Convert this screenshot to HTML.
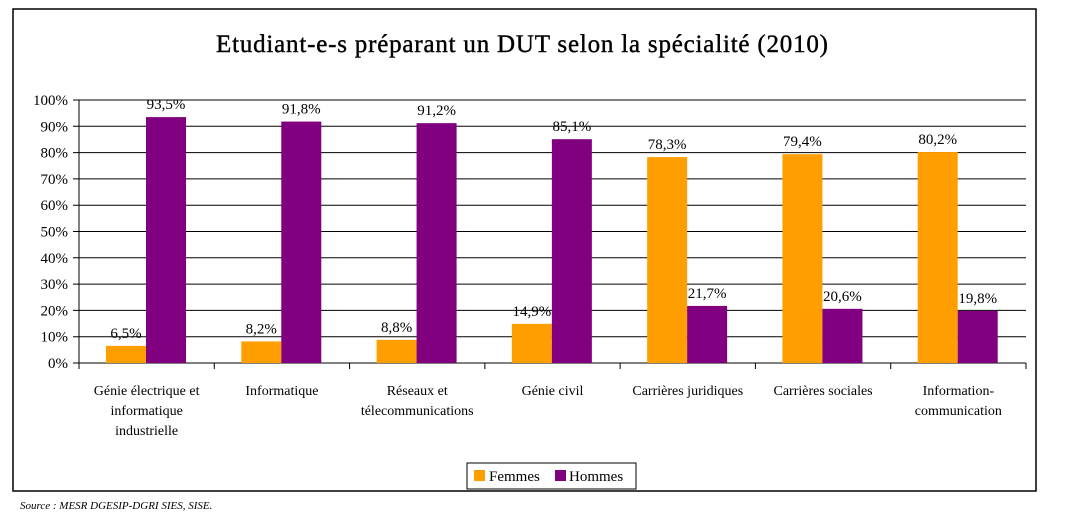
<!DOCTYPE html>
<html><head><meta charset="utf-8"><style>
body{margin:0;background:#fff;width:1067px;height:524px;overflow:hidden;font-family:"Liberation Serif",serif}
svg text{font-family:"Liberation Serif",serif;fill:#000}
</style></head><body>
<svg id="chart" width="1067" height="524">
<rect x="13" y="9" width="1023" height="482" fill="#fff" stroke="#000" stroke-width="1.5"/>
<text x="522" y="52" font-size="25" text-anchor="middle" textLength="612" stroke="#000" stroke-width="0.4">Etudiant-e-s préparant un DUT selon la spécialité (2010)</text>
<g id="grid"></g><g id="bars"></g><g id="labels"></g>
<g>
<rect x="467" y="463" width="169" height="26" fill="#fff" stroke="#000"/>
<rect x="474" y="470" width="11" height="11" fill="#FF9E00"/>
<text x="489" y="481" font-size="15">Femmes</text>
<rect x="555" y="470" width="11" height="11" fill="#800080"/>
<text x="569" y="481" font-size="15">Hommes</text>
</g>
<text x="20" y="509" font-size="11" font-style="italic">Source : MESR DGESIP-DGRI SIES, SISE.</text>
</svg>
<script>
const categories=[["Génie électrique et","informatique","industrielle"],["Informatique"],["Réseaux et","télecommunications"],["Génie civil"],["Carrières juridiques"],["Carrières sociales"],["Information-","communication"]];
const femmes=[6.5,8.2,8.8,14.9,78.3,79.4,80.2];
const hommes=[93.5,91.8,91.2,85.1,21.7,20.6,19.8];
const yTicks=[0,10,20,30,40,50,60,70,80,90,100];
const NS="http://www.w3.org/2000/svg";
const x0=79,x1=1026,yTop=100,yBot=363;
const cw=(x1-x0)/categories.length;
const y=v=>yBot-(v/100)*(yBot-yTop);
function mk(t,a,p){const e=document.createElementNS(NS,t);for(const k in a)e.setAttribute(k,a[k]);p.appendChild(e);return e;}
const grid=document.getElementById('grid'),bars=document.getElementById('bars'),labels=document.getElementById('labels');
yTicks.forEach(t=>{
 const l=mk('line',{x1:73,x2:x1,y1:y(t),y2:y(t),stroke:'#000','stroke-width':1},grid);
 
 
 const tx=mk('text',{x:68,y:y(t)+5,'font-size':15,'text-anchor':'end'},grid);
 tx.textContent=t+'%';
 
 
});
const ax=mk('line',{x1:x0,x2:x0,y1:yTop,y2:yBot+6,stroke:'#000'},grid);


for(let i=0;i<=categories.length;i++){
 const t=mk('line',{x1:x0+i*cw,x2:x0+i*cw,y1:yBot,y2:yBot+6,stroke:'#000'},grid);
 
 
}
const fmt=v=>v.toFixed(1).replace('.',',')+'%';
categories.forEach((c,i)=>{
 const bx=x0+i*cw+27;
 [[femmes[i],'#FF9E00','femmes'],[hommes[i],'#800080','hommes']].forEach((s,j)=>{
  const r=mk('rect',{x:bx+j*40,y:y(s[0]),width:40,height:yBot-y(s[0]),fill:s[1]},bars);
  
  
  const t=mk('text',{x:bx+j*40+20,y:y(s[0])-8,'font-size':15,'text-anchor':'middle'},labels);
  t.textContent=fmt(s[0]);
  
  
 });
 c.forEach((ln,k)=>{
  const t=mk('text',{x:x0+i*cw+cw/2,y:395+k*20,'font-size':14,'text-anchor':'middle'},labels);
  t.textContent=ln;
  
  
 });
});
</script>
</body></html>
